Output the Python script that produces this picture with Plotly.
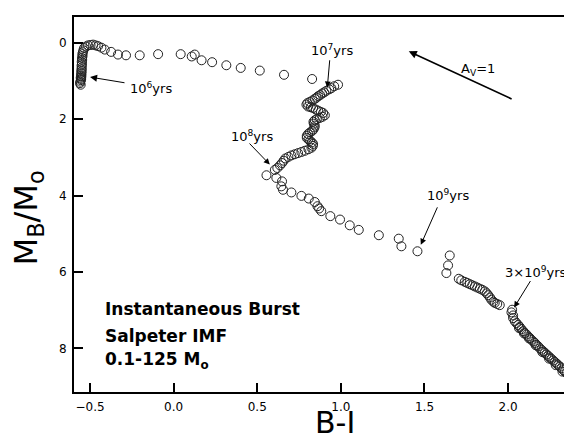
import plotly.graph_objects as go

# ---- data (B-I colour, M_B/M_o) ----
# young column near B-I = -0.55
col_bi = [-0.556, -0.560, -0.558, -0.555, -0.553, -0.556, -0.552, -0.554, -0.551, -0.553, -0.550,
          -0.552, -0.549, -0.551, -0.548, -0.550, -0.547, -0.548, -0.545, -0.546, -0.543, -0.540]
col_mb = [1.10, 1.06, 1.02, 0.98, 0.95, 0.92, 0.89, 0.86, 0.82, 0.78, 0.74,
          0.70, 0.65, 0.60, 0.55, 0.50, 0.45, 0.40, 0.35, 0.30, 0.25, 0.20]
# arc across the top
arc_bi = [-0.536, -0.524, -0.512, -0.497, -0.482, -0.467, -0.452, -0.432, -0.412, -0.374, -0.333,
          -0.285, -0.203, -0.093, 0.042, 0.108, 0.126, 0.167, 0.230, 0.315, 0.401, 0.515, 0.660, 0.828]
arc_mb = [0.14, 0.10, 0.07, 0.06, 0.05, 0.07, 0.09, 0.13, 0.18, 0.24, 0.31,
          0.33, 0.33, 0.30, 0.30, 0.36, 0.31, 0.46, 0.51, 0.59, 0.66, 0.73, 0.84, 0.95]
# loop between 10^7 and 10^8 yrs
loop_bi = [0.983, 0.960, 0.943, 0.930, 0.913, 0.900, 0.888, 0.876, 0.864, 0.854, 0.844, 0.830,
           0.814, 0.800, 0.794, 0.804, 0.820, 0.834, 0.850, 0.864, 0.880, 0.894, 0.904, 0.890,
           0.874, 0.856, 0.844, 0.836, 0.838, 0.844, 0.842, 0.836, 0.828, 0.815, 0.804, 0.796,
           0.796, 0.806, 0.816, 0.826, 0.834, 0.832, 0.824, 0.806, 0.784, 0.764, 0.744, 0.724,
           0.704, 0.686, 0.668, 0.658, 0.648, 0.636, 0.620, 0.605]
loop_mb = [1.10, 1.14, 1.19, 1.22, 1.26, 1.30, 1.33, 1.37, 1.40, 1.44, 1.47, 1.51,
           1.55, 1.58, 1.62, 1.67, 1.69, 1.71, 1.75, 1.78, 1.81, 1.84, 1.90, 1.94,
           1.97, 2.00, 2.03, 2.07, 2.12, 2.17, 2.22, 2.27, 2.31, 2.35, 2.39, 2.44,
           2.49, 2.53, 2.57, 2.61, 2.65, 2.70, 2.75, 2.79, 2.83, 2.86, 2.89, 2.92,
           2.95, 2.99, 3.03, 3.09, 3.15, 3.21, 3.28, 3.33]
# 10^8 to 3x10^9 yrs
mid_bi = [0.555, 0.614, 0.648, 0.644, 0.654, 0.704, 0.764, 0.808, 0.844, 0.860, 0.870, 0.883,
          0.937, 0.995, 1.053, 1.107, 1.227, 1.346, 1.362, 1.458, 1.651, 1.641, 1.631,
          1.705, 1.720, 1.741, 1.756, 1.771, 1.786, 1.801, 1.816, 1.831, 1.846, 1.861, 1.872,
          1.881, 1.892, 1.900, 1.912, 1.920, 1.935, 1.950]
mid_mb = [3.47, 3.54, 3.63, 3.76, 3.85, 3.92, 4.01, 4.08, 4.17, 4.28, 4.34, 4.41,
          4.54, 4.63, 4.78, 4.90, 5.04, 5.13, 5.33, 5.46, 5.57, 5.83, 6.03,
          6.18, 6.22, 6.26, 6.29, 6.32, 6.35, 6.38, 6.41, 6.44, 6.47, 6.51, 6.56,
          6.61, 6.67, 6.73, 6.78, 6.81, 6.84, 6.87]
# old red band after 3x10^9 yrs
old_bi = [2.024, 2.020, 2.030, 2.030, 2.040, 2.050, 2.060, 2.070, 2.080, 2.090, 2.100, 2.110,
          2.120, 2.130, 2.140, 2.150, 2.160, 2.170, 2.180, 2.190, 2.200, 2.210, 2.220, 2.230,
          2.240, 2.250, 2.260, 2.270, 2.280, 2.290, 2.300, 2.310, 2.320, 2.330, 2.340, 2.350,
          2.360, 2.370, 2.380, 2.390, 2.400, 2.410, 2.420, 2.430, 2.440,
          2.065, 2.095, 2.125, 2.165, 2.205, 2.245, 2.285, 2.325, 2.365, 2.405]
old_mb = [6.99, 7.06, 7.14, 7.21, 7.29, 7.34, 7.39, 7.44, 7.50, 7.55, 7.60, 7.64,
          7.69, 7.73, 7.78, 7.82, 7.86, 7.91, 7.95, 8.00, 8.04, 8.08, 8.12, 8.16,
          8.20, 8.24, 8.28, 8.32, 8.36, 8.40, 8.44, 8.48, 8.52, 8.57, 8.61, 8.65,
          8.70, 8.74, 8.78, 8.83, 8.87, 8.91, 8.96, 9.00, 9.04,
          7.47, 7.61, 7.74, 7.92, 8.10, 8.27, 8.44, 8.61, 8.78, 8.95]

bi = col_bi + arc_bi + loop_bi + mid_bi + old_bi
mb = col_mb + arc_mb + loop_mb + mid_mb + old_mb

x_ticks = [-0.5, 0.0, 0.5, 1.0, 1.5, 2.0]
y_ticks = [0, 2, 4, 6, 8]

FONT = "DejaVu Sans"

fig = go.Figure()
fig.add_trace(go.Scatter(
    x=bi, y=mb, mode="markers",
    marker=dict(symbol="circle-open", size=9, color="#222", line=dict(width=1, color="#222")),
    hoverinfo="skip"))

ann = []
def label(x, y, text, size=13, xanchor="center"):
    ann.append(dict(x=x, y=y, xref="x", yref="y", text=text, showarrow=False,
                    font=dict(family=FONT, size=size, color="black"), xanchor=xanchor, yanchor="middle"))

def arrow(tip_x, tip_y, tail_x, tail_y, width=1, size=1.2):
    ann.append(dict(x=tip_x, y=tip_y, ax=tail_x, ay=tail_y, xref="x", yref="y", axref="x", ayref="y",
                    text="", showarrow=True, arrowhead=2, arrowsize=size, arrowwidth=width,
                    arrowcolor="black"))

# age labels with arrows
label(-0.135, 1.19, "10<sup>6</sup>yrs")
arrow(-0.50, 0.90, -0.285, 1.055, size=1.4)
label(0.947, 0.19, "10<sup>7</sup>yrs")
arrow(0.919, 1.17, 0.934, 0.42)
label(0.470, 2.45, "10<sup>8</sup>yrs")
arrow(0.575, 3.19, 0.445, 2.60)
label(1.641, 3.99, "10<sup>9</sup>yrs")
arrow(1.478, 5.29, 1.581, 4.27)
label(2.164, 6.00, "3×10<sup>9</sup>yrs")
arrow(2.036, 6.93, 2.139, 6.20)
# reddening vector
label(1.82, 0.69, "A<sub>V</sub>=1")
arrow(1.406, 0.225, 2.030, 1.49, width=1.6, size=1.0)

# model description
label(-0.422, 6.97, "<b>Instantaneous Burst</b>", size=17, xanchor="left")
label(-0.422, 7.68, "<b>Salpeter IMF</b>", size=17, xanchor="left")
label(-0.422, 8.31, "<b>0.1-125 M<sub>o</sub></b>", size=17, xanchor="left")

# axis titles
ann.append(dict(x=0.516, y=-0.082, xref="paper", yref="paper", text="B-I", showarrow=False,
                font=dict(family=FONT, size=30, color="black"), xanchor="center", yanchor="middle"))
ann.append(dict(x=-0.09, y=0.464, xref="paper", yref="paper", text="M<sub>B</sub>/M<sub>o</sub>",
                showarrow=False, textangle=-90,
                font=dict(family=FONT, size=32, color="black"), xanchor="center", yanchor="middle"))

fig.update_layout(
    width=572, height=434,
    margin=dict(l=66, r=0, t=9, b=50),
    plot_bgcolor="white", paper_bgcolor="white",
    showlegend=False,
    annotations=ann,
    xaxis=dict(range=[-0.596, 2.43], tickvals=x_ticks, tickformat=".1f",
               ticks="inside", ticklen=9, tickwidth=1.5, tickcolor="black",
               showline=True, linewidth=2, linecolor="black", mirror=True,
               showgrid=False, zeroline=False, ticklabelstandoff=3,
               tickfont=dict(family=FONT, size=12, color="black")),
    yaxis=dict(range=[9.144, -0.673], tickvals=y_ticks,
               ticks="inside", ticklen=9, tickwidth=1.5, tickcolor="black",
               showline=True, linewidth=2, linecolor="black", mirror=False,
               showgrid=False, zeroline=False, ticklabelstandoff=3,
               tickfont=dict(family=FONT, size=12, color="black")),
)

fig.write_html("out.html")
